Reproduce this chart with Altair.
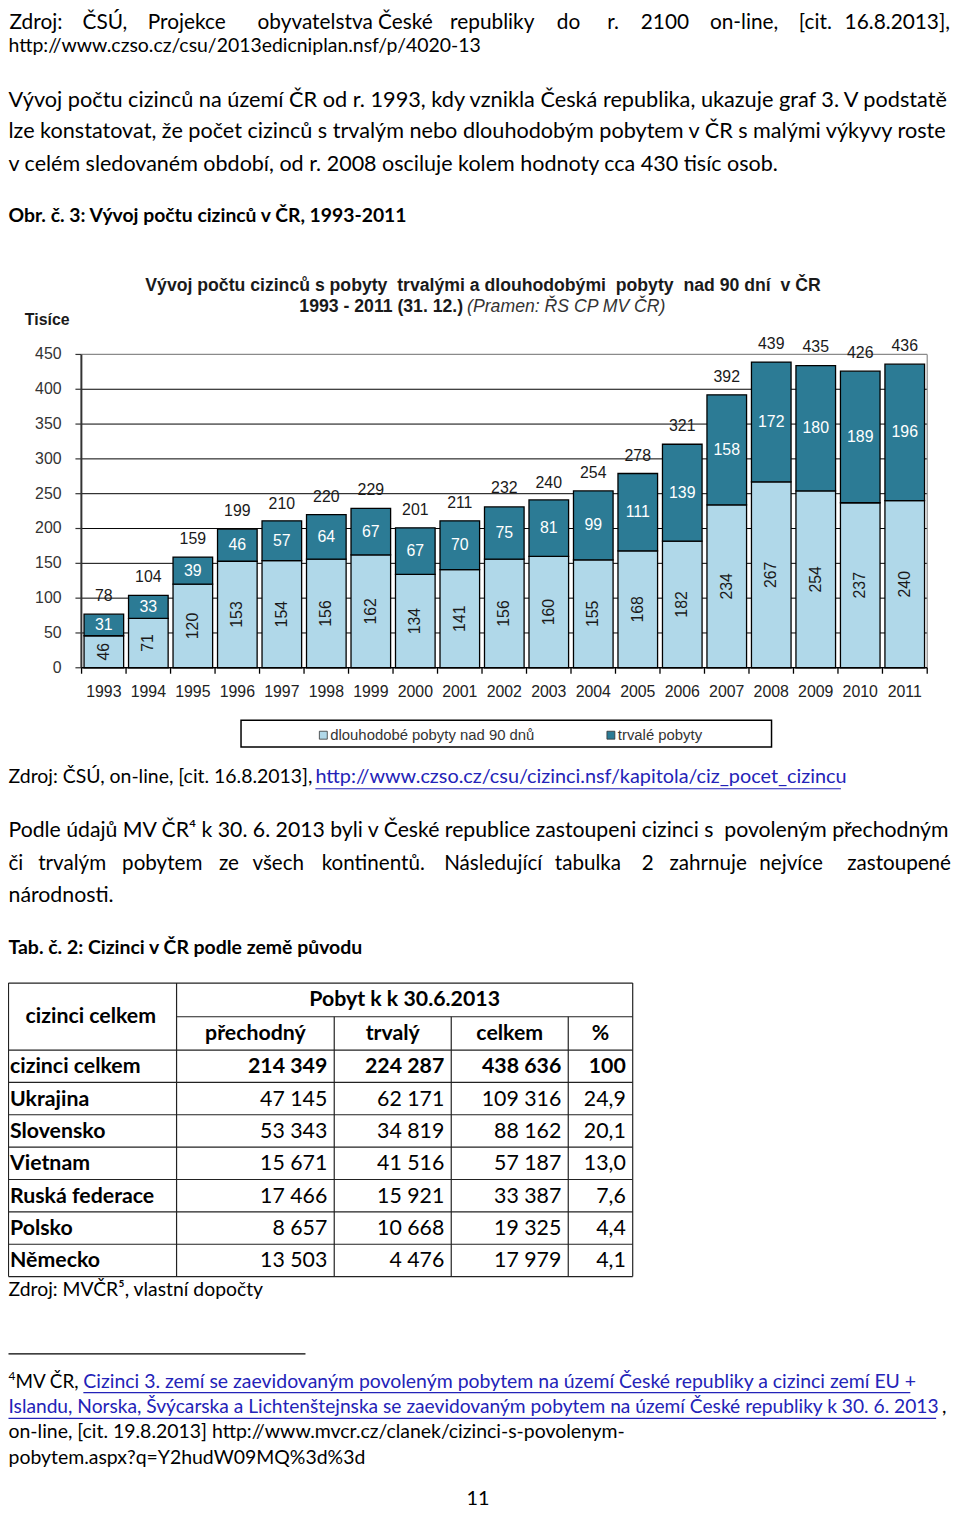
import altair as alt
import pandas as pd

# ---------------- data ----------------
years = [str(y) for y in range(1993, 2012)]
dlouhodobe = [46, 71, 120, 153, 154, 156, 162, 134, 141, 156, 160, 155, 168, 182, 234, 267, 254, 237, 240]
trvale = [31, 33, 39, 46, 57, 64, 67, 67, 70, 75, 81, 99, 111, 139, 158, 172, 180, 189, 196]
celkem_rok = [78, 104, 159, 199, 210, 220, 229, 201, 211, 232, 240, 254, 278, 321, 392, 439, 435, 426, 436]
series_names = ["dlouhodobé pobyty nad 90 dnů", "trvalé pobyty"]
y_ticks = [0, 50, 100, 150, 200, 250, 300, 350, 400, 450]

countries = ["cizinci celkem", "Ukrajina", "Slovensko", "Vietnam", "Ruská federace", "Polsko", "Německo"]
prechodny = [214349, 47145, 53343, 15671, 17466, 8657, 13503]
trvaly = [224287, 62171, 34819, 41516, 15921, 10668, 4476]
celkem = [438636, 109316, 88162, 57187, 33387, 19325, 17979]
podil = [100, 24.9, 20.1, 13.0, 7.6, 4.4, 4.1]

# ---------------- styles ----------------
BODY = "Lato, Carlito, Calibri, DejaVu Sans, sans-serif"
CHART = "Liberation Sans, Arial, sans-serif"
LIGHT = "#B0D8E9"
DARK = "#2C7B95"
LINK = "#2323B8"
OFF = 8
BS = 21.5  # body font size

layers = []
ONE = pd.DataFrame({"a": [0]})


def PX(x):
    return max(x, 8.5) - OFF


def T(s, x, y, size=BS, weight="normal", color="black", align="left", font=BODY, style="normal"):
    xx = PX(x) if align == "left" else x - OFF
    layers.append(
        alt.Chart(pd.DataFrame({"t": [s]}))
        .mark_text(align=align, baseline="middle", font=font, fontSize=size,
                   fontWeight=weight, fontStyle=style, color=color)
        .encode(x=alt.value(xx), y=alt.value(y - OFF), text="t:N")
    )


def R(x1, y1, x2, y2, color="black", w=1.0):
    layers.append(
        alt.Chart(ONE)
        .mark_rule(color=color, strokeWidth=w)
        .encode(x=alt.value(PX(x1)), x2=alt.value(PX(x2)),
                y=alt.value(y1 - OFF), y2=alt.value(y2 - OFF))
    )


def words_left(ws, y, size=BS):
    n = len(ws)
    for i, (w, x) in enumerate(ws):
        xm = 8.5 + (x - 5) * (950.5 / 954)
        if i == n - 1:
            T(w, x, y, size=size, align="right")
        else:
            T(w, xm, y, size=size)


# ---------------- top text ----------------
words_left([("Zdroj:", 6), ("ČSÚ,", 80), ("Projekce", 146), ("obyvatelstva", 257), ("České", 379),
            ("republiky", 452), ("do", 560), ("r.", 611), ("2100", 645), ("on-line,", 715),
            ("[cit.", 805), ("16.8.2013],", 958)], 16.5, size=21)
T("http://www.czso.cz/csu/2013edicniplan.nsf/p/4020-13", 5, 39.5, size=19.6)

T("Vývoj počtu cizinců na území ČR od r. 1993, kdy vznikla Česká republika, ukazuje graf 3. V podstatě",
  5, 94, size=21.9)
T("lze konstatovat, že počet cizinců s trvalým nebo dlouhodobým pobytem v ČR s malými výkyvy roste",
  5, 126, size=21.8)
T("v celém sledovaném období, od r. 2008 osciluje kolem hodnoty cca 430 tisíc osob.", 5, 159, size=21.7)
T("Obr. č. 3: Vývoj počtu cizinců v ČR, 1993-2011", 5, 211, weight="bold", size=19.5)

# ---------------- chart ----------------
T("Vývoj počtu cizinců s pobyty\u00a0 trvalými a dlouhodobými\u00a0 pobyty\u00a0 nad 90 dní\u00a0 v ČR", 487, 282,
  size=17.8, weight="bold", color="#1a1a1a", align="center", font=CHART)
T("1993 - 2011 (31. 12.)", 467, 303, size=17.8, weight="bold", color="#1a1a1a", align="right", font=CHART)
T("(Pramen: ŘS CP MV ČR)", 471, 303, size=17.8, style="italic", color="#333333", font=CHART)
T("Tisíce", 25, 316, size=16, weight="bold", color="#1a1a1a", font=CHART)

XS = alt.Scale(domain=years, range=[82 - OFF, 935 - OFF], paddingInner=0.11, paddingOuter=0.06)
YS = alt.Scale(domain=[0, 450], range=[667 - OFF, 351 - OFF])

rows = []
for yr, d, t in zip(years, dlouhodobe, trvale):
    rows.append({"year": yr, "series": series_names[0], "y0": 0, "y1": d, "v": d, "mid": d / 2})
    rows.append({"year": yr, "series": series_names[1], "y0": d, "y1": d + t, "v": t, "mid": d + t / 2})
bar_df = pd.DataFrame(rows)
tot_df = pd.DataFrame({"year": years, "tot": celkem_rok})
tick_df = pd.DataFrame({"v": y_ticks})
grid_df = pd.DataFrame({"v": y_ticks[1:-1]})
edge_df = pd.DataFrame({"top": [450], "bot": [0]})
year_df = pd.DataFrame({"year": years})

grid = alt.Chart(grid_df).mark_rule(color="black", strokeWidth=1).encode(
    x=alt.value(82 - OFF), x2=alt.value(935 - OFF), y=alt.Y("v:Q", scale=YS, axis=None))
top_border = alt.Chart(edge_df).mark_rule(color="#8a8a8a", strokeWidth=1.2).encode(
    x=alt.value(82 - OFF), x2=alt.value(935 - OFF), y=alt.Y("top:Q", scale=YS, axis=None))
right_border = alt.Chart(edge_df).mark_rule(color="#8a8a8a", strokeWidth=1.2).encode(
    x=alt.value(935 - OFF), y=alt.Y("top:Q", scale=YS, axis=None), y2="bot:Q")
bars = alt.Chart(bar_df).mark_bar(stroke="black", strokeWidth=1.3).encode(
    x=alt.X("year:N", scale=XS, axis=None),
    y=alt.Y("y1:Q", scale=YS, axis=None),
    y2="y0:Q",
    color=alt.Color("series:N", scale=alt.Scale(domain=series_names, range=[LIGHT, DARK]), legend=None),
)
left_axis = alt.Chart(edge_df).mark_rule(color="#333333", strokeWidth=2).encode(
    x=alt.value(82 - OFF), y=alt.Y("top:Q", scale=YS, axis=None), y2="bot:Q")
left_ticks = alt.Chart(tick_df).mark_rule(color="#333333", strokeWidth=1.2).encode(
    x=alt.value(76 - OFF), x2=alt.value(82 - OFF), y=alt.Y("v:Q", scale=YS, axis=None))
bottom_axis = alt.Chart(edge_df).mark_rule(color="black", strokeWidth=1.5).encode(
    x=alt.value(82 - OFF), x2=alt.value(935 - OFF), y=alt.Y("bot:Q", scale=YS, axis=None))
bottom_ticks = alt.Chart(year_df).mark_rule(color="black", strokeWidth=1.3, xOffset=-2.5).encode(
    x=alt.X("year:N", scale=XS, axis=None, bandPosition=0),
    y=alt.value(667 - OFF), y2=alt.value(673 - OFF))
last_tick = alt.Chart(ONE).mark_rule(color="black", strokeWidth=1.3).encode(
    x=alt.value(935 - OFF), y=alt.value(667 - OFF), y2=alt.value(673 - OFF))
tick_labels = alt.Chart(tick_df).mark_text(align="right", baseline="middle", font=CHART, fontSize=16,
                                           color="#333333").encode(
    x=alt.value(62 - OFF), y=alt.Y("v:Q", scale=YS, axis=None), text="v:Q")
year_labels = alt.Chart(year_df).mark_text(baseline="middle", font=CHART, fontSize=16,
                                           color="#222222").encode(
    x=alt.X("year:N", scale=XS, axis=None), y=alt.value(691 - OFF), text="year:N")
light_labels = alt.Chart(bar_df[bar_df.series == series_names[0]]).mark_text(
    angle=270, baseline="middle", font=CHART, fontSize=16, color="#1a1a1a").encode(
    x=alt.X("year:N", scale=XS, axis=None), y=alt.Y("mid:Q", scale=YS, axis=None), text="v:Q")
dark_labels = alt.Chart(bar_df[bar_df.series == series_names[1]]).mark_text(
    baseline="middle", font=CHART, fontSize=16, color="white").encode(
    x=alt.X("year:N", scale=XS, axis=None), y=alt.Y("mid:Q", scale=YS, axis=None), text="v:Q")
tot_labels = alt.Chart(tot_df).mark_text(baseline="bottom", dy=-10, font=CHART, fontSize=16,
                                         color="#1a1a1a").encode(
    x=alt.X("year:N", scale=XS, axis=None), y=alt.Y("tot:Q", scale=YS, axis=None), text="tot:Q")

chart_layers = [grid, top_border, right_border, bars, left_axis, left_ticks, bottom_axis,
                bottom_ticks, last_tick, tick_labels, year_labels, light_labels, dark_labels, tot_labels]

# legend (manual box)
layers.append(alt.Chart(ONE).mark_rect(fill="white", stroke="black", strokeWidth=1.5).encode(
    x=alt.value(243 - OFF), x2=alt.value(778 - OFF), y=alt.value(720 - OFF), y2=alt.value(747 - OFF)))
for name, col, xs in zip(series_names, [LIGHT, DARK], [322, 612]):
    layers.append(alt.Chart(ONE).mark_rect(fill=col, stroke="#333333", strokeWidth=0.8).encode(
        x=alt.value(xs - OFF), x2=alt.value(xs + 8 - OFF), y=alt.value(731 - OFF), y2=alt.value(739 - OFF)))
    layers.append(
        alt.Chart(pd.DataFrame({"t": [name]}))
        .mark_text(align="left", baseline="middle", font=CHART, fontSize=15, color="#333333")
        .encode(x=alt.value(xs + 11 - OFF), y=alt.value(735 - OFF), text="t:N"))

# ---------------- middle text ----------------
T("Zdroj: ČSÚ, on-line, [cit. 16.8.2013],", 5, 777, size=19.6)
T("http://www.czso.cz/csu/cizinci.nsf/kapitola/ciz_pocet_cizincu", 318, 777, size=20, color=LINK)
R(318, 789, 848, 789, color=LINK, w=1.2)

T("Podle údajů MV ČR⁴ k 30. 6. 2013 byli v České republice zastoupeni cizinci s\u00a0 povoleným přechodným",
  5, 832, size=21.4)
words_left([("či", 5), ("trvalým", 35), ("pobytem", 120), ("ze", 218), ("všech", 252), ("kontinentů.", 322),
            ("Následující", 446), ("tabulka", 558), ("2", 646), ("zahrnuje", 674), ("nejvíce", 765),
            ("zastoupené", 959)], 865, size=20.8)
T("národnosti.", 5, 897)
T("Tab. č. 2: Cizinci v ČR podle země původu", 5, 950, weight="bold", size=19.6)

# ---------------- table ----------------
cx = [3, 178, 337, 455, 573, 638]
top, mid_line, head_bot = 985, 1019, 1052.5
rh = 32.64
row_lines = [head_bot + i * rh for i in range(len(countries) + 1)]
TC = "#222222"
R(cx[0], top, cx[-1], top, color=TC, w=1.3)
R(cx[1], mid_line, cx[-1], mid_line, color=TC, w=1.1)
for yl in row_lines:
    R(cx[0], yl, cx[-1], yl, color=TC, w=1.2)
for i, xl in enumerate(cx):
    y_start = top if i in (0, 1, 5) else mid_line
    R(xl, y_start, xl, row_lines[-1], color=TC, w=1.2)

T("cizinci celkem", (cx[0] + cx[1]) / 2 + 1, (top + head_bot) / 2, weight="bold", align="center")
T("Pobyt k k 30.6.2013", (cx[1] + cx[-1]) / 2, (top + mid_line) / 2, weight="bold", align="center")
for j, h in enumerate(["přechodný", "trvalý", "celkem", "%"]):
    T(h, (cx[j + 1] + cx[j + 2]) / 2, (mid_line + head_bot) / 2 + 1, weight="bold", align="center")


def fmt(v):
    return f"{v:,}".replace(",", " ")


def fmtp(v):
    return "100" if v == 100 else f"{v:.1f}".replace(".", ",")


for i, name in enumerate(countries):
    yc = (row_lines[i] + row_lines[i + 1]) / 2 + 1
    wt = "bold" if i == 0 else "normal"
    T(name, 10, yc, weight="bold")
    vals = [fmt(prechodny[i]), fmt(trvaly[i]), fmt(celkem[i]), fmtp(podil[i])]
    for j, v in enumerate(vals):
        T(v, cx[j + 2] - 7, yc, weight=wt, align="right")

T("Zdroj: MVČR⁵, vlastní dopočty", 5, 1295, size=19.5)

# ---------------- footnote ----------------
FS = 19.6
R(5, 1359, 308, 1359, color="black", w=1.2)
T("4", 5, 1381, size=12)
T("MV ČR,", 15.5, 1387, size=19)
T("Cizinci 3. zemí se zaevidovaným povoleným pobytem na území České republiky a cizinci zemí EU +",
  84, 1387, size=FS, color=LINK)
R(84, 1398, 918, 1398, color=LINK, w=1.1)
T("Islandu, Norska, Švýcarska a Lichtenštejnska se zaevidovaným pobytem na území České republiky k 30. 6. 2013",
  5, 1413, size=19.35, color=LINK)
R(5, 1424, 944, 1424, color=LINK, w=1.1)
T(",", 950, 1413, size=FS)
T("on-line, [cit. 19.8.2013] http://www.mvcr.cz/clanek/cizinci-s-povolenym-", 5, 1438, size=FS)
T("pobytem.aspx?q=Y2hudW09MQ%3d%3d", 5, 1464, size=FS)
T("11", 482, 1505, size=20, align="center")

chart = alt.layer(*chart_layers, *layers).properties(
    width=952, height=1504, padding=0, autosize="none", background="white"
).configure_view(stroke=None)

chart.save("out.html", embed_options={"renderer": "svg", "actions": False})
